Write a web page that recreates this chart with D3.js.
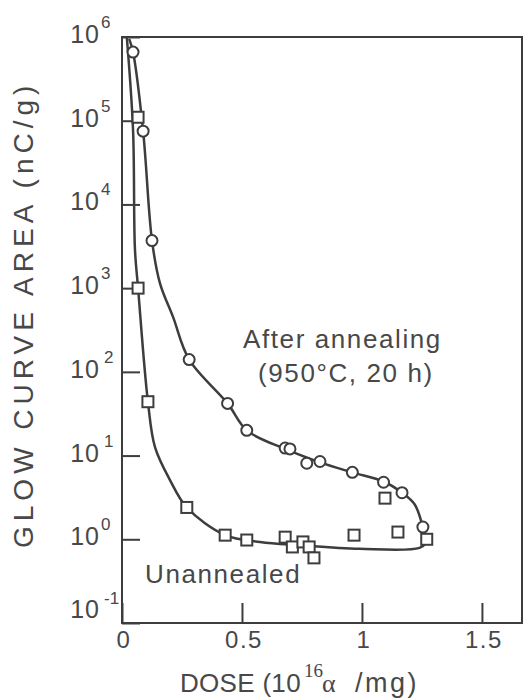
<!DOCTYPE html>
<html>
<head>
<meta charset="utf-8">
<script src="https://cdn.jsdelivr.net/npm/d3@7"></script>
<style>
  body { margin: 0; background: #fff; }
  svg text { font-family: "Liberation Sans", Arial, sans-serif; fill: #484848; }
</style>
</head>
<body>
<div id="chart"></div>
<script>
// measured points, after annealing (circles)
const annealedDose = [0.046, 0.088, 0.125, 0.28, 0.44, 0.52, 0.68, 0.70, 0.77, 0.825, 0.96, 1.09, 1.167, 1.254];
const annealedArea = [6.6e5, 7.5e4, 3700, 140, 42, 20, 12.3, 12, 8.1, 8.5, 6.3, 4.8, 3.6, 1.4];

// measured points, unannealed (squares)
const unannealedDose = [0.067, 0.067, 0.108, 0.27, 0.43, 0.52, 0.68, 0.71, 0.754, 0.78, 0.80, 0.967, 1.096, 1.15, 1.27];
const unannealedArea = [1.1e5, 1000, 44, 2.4, 1.12, 0.98, 1.06, 0.81, 0.93, 0.81, 0.60, 1.12, 3.1, 1.22, 1.0];

// hand drawn fit lines
const annealedFitDose = [0.03, 0.046, 0.088, 0.125, 0.158, 0.213, 0.28, 0.44, 0.52, 0.68, 0.825, 0.96, 1.09, 1.167, 1.22, 1.254, 1.267];
const annealedFitArea = [9.5e5, 6.6e5, 7.5e4, 3700, 1150, 450, 140, 42, 20, 12, 8.3, 6.3, 4.9, 3.6, 2.6, 1.4, 0.98];
const unannealedFitDose = [0.02, 0.046, 0.054, 0.067, 0.108, 0.1375, 0.2, 0.27, 0.43, 0.575, 0.74, 0.99, 1.24, 1.27];
const unannealedFitArea = [1e6, 7.8e4, 2900, 1000, 44, 12.6, 5.1, 2.4, 1.12, 0.93, 0.85, 0.77, 0.79, 0.93];

// axes
const xTicks = [0, 0.5, 1, 1.5];
const xTickLabels = ["0", "0.5", "1", "1.5"];
const yExponents = [6, 5, 4, 3, 2, 1, 0, -1];

const width = 525, height = 699;
const margin = {top: 37, right: 3, bottom: 76, left: 122};
const ink = "#3d3d3d";

const svg = d3.select("#chart").append("svg")
    .attr("width", width)
    .attr("height", height);

const xscale = d3.scaleLinear()
    .domain([0, 1.667])
    .range([margin.left, width - margin.right]);
const yscale = d3.scaleLog()
    .domain([0.1, 1e6])
    .range([height - margin.bottom, margin.top]);

// frame
svg.append("rect")
    .attr("x", xscale(0))
    .attr("y", yscale(1e6))
    .attr("width", xscale(1.667) - xscale(0))
    .attr("height", yscale(0.1) - yscale(1e6))
    .attr("fill", "none")
    .attr("stroke", ink)
    .attr("stroke-width", 2);

// x axis, ticks pointing in
const xAxis = d3.axisTop(xscale)
    .tickValues(xTicks)
    .tickSize(20)
    .tickFormat("");
svg.append("g")
    .attr("transform", "translate(0," + yscale(0.1) + ")")
    .call(xAxis)
    .call(g => g.select(".domain").remove())
    .call(g => g.selectAll("line").attr("stroke", ink).attr("stroke-width", 2));

svg.selectAll(".xlab")
    .data(xTicks)
    .enter().append("text")
    .attr("class", "xlab")
    .attr("x", d => xscale(d) + 2)
    .attr("y", 648)
    .attr("text-anchor", "middle")
    .attr("font-size", 24)
    .attr("letter-spacing", 1.5)
    .text((d, i) => xTickLabels[i]);

// y axis
const yAxis = d3.axisRight(yscale)
    .tickValues(yExponents.map(e => Math.pow(10, e)))
    .tickSize(18)
    .tickFormat("");
svg.append("g")
    .attr("transform", "translate(" + xscale(0) + ",0)")
    .call(yAxis)
    .call(g => g.select(".domain").remove())
    .call(g => g.selectAll("line").attr("stroke", ink).attr("stroke-width", 2));

const ylab = svg.selectAll(".ylab")
    .data(yExponents)
    .enter().append("g")
    .attr("class", "ylab")
    .attr("transform", d => "translate(0," + yscale(Math.pow(10, d)) + ")");
ylab.append("text")
    .attr("x", 100)
    .attr("y", d => d === -1 ? -5 : 6)
    .attr("text-anchor", "end")
    .attr("font-size", 25)
    .attr("letter-spacing", 1)
    .text("10");
ylab.append("text")
    .attr("x", d => (d === 1 || d === 2 || d === -1) ? 104 : 101)
    .attr("y", d => d === -1 ? -19 : -9)
    .attr("font-size", 17)
    .text(d => d);

// fit lines
const line = d3.line()
    .x(d => xscale(d[0]))
    .y(d => yscale(d[1]))
    .curve(d3.curveCatmullRom);

svg.append("path")
    .datum(annealedFitDose.map((d, i) => [d, annealedFitArea[i]]))
    .attr("d", line)
    .attr("fill", "none")
    .attr("stroke", ink)
    .attr("stroke-width", 2.5);
svg.append("path")
    .datum(unannealedFitDose.map((d, i) => [d, unannealedFitArea[i]]))
    .attr("d", line)
    .attr("fill", "none")
    .attr("stroke", ink)
    .attr("stroke-width", 2.5);

// squares
const sq = 11;
svg.selectAll(".sq")
    .data(unannealedDose.map((d, i) => [d, unannealedArea[i]]))
    .enter().append("rect")
    .attr("class", "sq")
    .attr("x", d => xscale(d[0]) - sq / 2)
    .attr("y", d => yscale(d[1]) - sq / 2)
    .attr("width", sq)
    .attr("height", sq)
    .attr("fill", "#fff")
    .attr("stroke", ink)
    .attr("stroke-width", 2);

// circles
svg.selectAll(".dot")
    .data(annealedDose.map((d, i) => [d, annealedArea[i]]))
    .enter().append("circle")
    .attr("class", "dot")
    .attr("r", 5.5)
    .attr("cx", d => xscale(d[0]))
    .attr("cy", d => yscale(d[1]))
    .attr("fill", "#fff")
    .attr("stroke", ink)
    .attr("stroke-width", 2);

// annotations
svg.append("text").attr("x", 243).attr("y", 348).attr("font-size", 26)
    .attr("letter-spacing", 1.6)
    .text("After annealing");
svg.append("text").attr("x", 258).attr("y", 382).attr("font-size", 26)
    .attr("letter-spacing", 1.6)
    .text("(950°C, 20 h)");
svg.append("text").attr("x", 145).attr("y", 583).attr("font-size", 26)
    .attr("letter-spacing", 1.6)
    .text("Unannealed");

// axis titles
svg.append("text")
    .attr("transform", "translate(33,548) rotate(-90)")
    .attr("font-size", 28)
    .attr("letter-spacing", 5)
    .text("GLOW CURVE AREA (nC/g)");

const xt = svg.append("text")
    .attr("y", 692)
    .attr("font-size", 26);
xt.append("tspan").attr("x", 180).attr("letter-spacing", 0.3).text("DOSE (10");
xt.append("tspan").attr("x", 304).attr("dy", -15).attr("font-size", 19)
    .style("font-family", "'Liberation Serif', serif").text("16");
xt.append("tspan").attr("x", 322).attr("dy", 15).attr("font-size", 26)
    .style("font-family", "'Liberation Serif', serif").text("α");
xt.append("tspan").attr("x", 355).attr("font-size", 27).attr("letter-spacing", 2.5).text("/mg)");
</script>
</body>
</html>
